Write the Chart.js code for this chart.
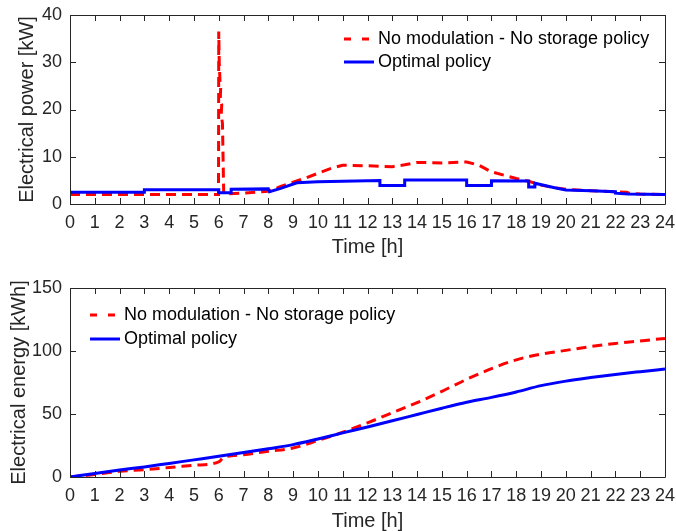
<!DOCTYPE html>
<html>
<head>
<meta charset="utf-8">
<script src="https://cdn.jsdelivr.net/npm/chart.js@4"></script>
<style>
  html, body { margin: 0; padding: 0; background: #fff; }
  #wrap { position: relative; width: 676px; height: 531px; }
  canvas { position: absolute; left: 0; }
  #power { top: 0; }
  #energy { top: 265px; }
</style>
</head>
<body>
<div id="wrap">
  <canvas id="power" width="676" height="265"></canvas>
  <canvas id="energy" width="676" height="266"></canvas>
</div>
<script>
// power profile, no modulation / no storage
const refPowerTime = [0, 5.99, 6.0, 6.02, 6.05, 6.08, 6.06, 6.12, 6.1, 6.15, 6.2, 7, 8, 8.5, 9, 9.5, 10, 10.5, 11, 12, 13, 13.5, 14, 15, 16, 16.5, 17, 17.5, 18, 18.5, 19, 19.5, 20, 21, 22, 22.45, 22.6, 23, 24];
const refPower = [2.0, 2.0, 36.5, 30, 26, 25, 22, 21, 19, 17, 2.1, 2.3, 2.7, 3.7, 4.6, 5.5, 6.5, 7.5, 8.2, 8.1, 7.9, 8.3, 8.8, 8.7, 8.9, 8.2, 6.8, 6.1, 5.4, 4.8, 4.0, 3.5, 3.1, 2.8, 2.6, 2.5, 2.2, 2.1, 2.0];

// power profile, optimal policy
const optPowerTime = [0, 3, 3, 6, 6, 6.5, 6.5, 8, 8.05, 8.5, 9.15, 10, 11, 12.5, 12.5, 13.5, 13.5, 16, 16, 17, 17, 18.5, 18.5, 18.75, 18.75, 19.5, 20, 21, 22, 22, 22.5, 24];
const optPower = [2.5, 2.5, 3.0, 3.0, 2.4, 2.4, 3.1, 3.2, 2.6, 3.3, 4.5, 4.7, 4.8, 4.95, 3.9, 3.9, 5.1, 5.1, 3.9, 3.9, 4.9, 4.85, 3.6, 3.6, 4.4, 3.5, 2.95, 2.8, 2.6, 2.3, 2.1, 2.0];

// cumulative energy
const refEnergyTime = [0, 1, 2, 3, 4, 5, 6, 6.2, 7, 8, 9, 10, 11, 12, 13, 14, 15, 16, 17, 18, 19, 20, 21, 22, 23, 24];
const refEnergy = [0, 2.0, 4.5, 5.8, 7.5, 9.3, 12.0, 15.5, 17.7, 20.4, 23, 29, 35.5, 43, 51, 59, 68, 77.5, 86, 93, 97.5, 100.5, 103.5, 106, 108, 110];
const optEnergyTime = [0, 1, 2, 3, 4, 5, 6, 7, 8, 9, 10, 11, 12, 13, 14, 15, 16, 17, 18, 19, 20, 21, 22, 23, 24];
const optEnergy = [0, 2.8, 5.5, 8.0, 10.8, 13.6, 16.4, 19.4, 22.4, 25.7, 30.2, 35, 39.7, 44.6, 49.6, 54.6, 59.3, 63.2, 67.5, 72.5, 76.1, 78.9, 81.4, 83.6, 85.7];

const hourTicks = [0, 24];
const powerRange = [0, 40, 10];
const energyRange = [0, 150, 50];

const refLabel = 'No modulation - No storage policy';
const optLabel = 'Optimal policy';

const FONT = '"Liberation Sans", Arial, Helvetica, sans-serif';
const INK = '#262626';
Chart.defaults.font.family = FONT;
Chart.defaults.color = INK;

const pts = (xs, ys) => xs.map((x, i) => ({ x: x, y: ys[i] }));

// box round the plot with inward ticks on all four sides
const boxTicks = {
  id: 'boxTicks',
  afterDraw(chart) {
    const { ctx, chartArea: a, scales: { x, y } } = chart;
    const L = 6;
    ctx.save();
    ctx.strokeStyle = INK;
    ctx.lineWidth = 1;
    ctx.beginPath();
    x.ticks.forEach(t => {
      const px = Math.round(x.getPixelForValue(t.value)) + 0.5;
      ctx.moveTo(px, a.bottom); ctx.lineTo(px, a.bottom - L);
      ctx.moveTo(px, a.top); ctx.lineTo(px, a.top + L);
    });
    y.ticks.forEach(t => {
      const py = Math.round(y.getPixelForValue(t.value)) + 0.5;
      ctx.moveTo(a.left, py); ctx.lineTo(a.left + L, py);
      ctx.moveTo(a.right, py); ctx.lineTo(a.right - L, py);
    });
    ctx.rect(Math.round(a.left) + 0.5, Math.round(a.top) + 0.5,
             Math.round(a.right - a.left), Math.round(a.bottom - a.top));
    ctx.stroke();
    ctx.restore();
  }
};

// legend drawn inside the axes
const innerLegend = {
  id: 'innerLegend',
  afterDraw(chart, args, o) {
    const ctx = chart.ctx;
    ctx.save();
    ctx.font = '18px ' + FONT;
    ctx.textBaseline = 'middle';
    ctx.fillStyle = '#000';
    chart.data.datasets.forEach((ds, i) => {
      const y = o.y + i * o.rowGap;
      ctx.beginPath();
      ctx.setLineDash(ds.legendDash || []);
      ctx.strokeStyle = ds.borderColor;
      ctx.lineWidth = ds.borderWidth;
      ctx.moveTo(o.x, y);
      ctx.lineTo(o.x + o.sample, y);
      ctx.stroke();
      ctx.setLineDash([]);
      ctx.fillText(ds.label, o.x + o.sample + o.gap, y);
    });
    ctx.restore();
  }
};

function makeChart(id, cfg) {
  return new Chart(document.getElementById(id), {
    type: 'line',
    data: {
      datasets: [
        {
          label: refLabel,
          data: pts(cfg.refTime, cfg.ref),
          borderColor: '#ff0000',
          borderWidth: 3,
          borderDash: [10, 6],
          legendDash: [7, 11],
          pointRadius: 0,
          cubicInterpolationMode: cfg.smooth ? 'monotone' : 'default',
          order: 1
        },
        {
          label: optLabel,
          data: pts(cfg.optTime, cfg.opt),
          borderColor: '#0000ff',
          borderWidth: 3,
          pointRadius: 0,
          cubicInterpolationMode: cfg.smooth ? 'monotone' : 'default',
          order: 0
        }
      ]
    },
    options: {
      responsive: false,
      animation: false,
      layout: { padding: { top: cfg.top, right: 11, left: 0, bottom: 0 } },
      plugins: {
        legend: { display: false },
        tooltip: { enabled: false },
        innerLegend: cfg.legend
      },
      scales: {
        x: {
          type: 'linear',
          min: hourTicks[0],
          max: hourTicks[1],
          grid: { display: false, drawTicks: false },
          border: { display: false },
          ticks: { stepSize: 1, autoSkip: false, maxRotation: 0, padding: 8, color: INK, font: { size: 18 } },
          title: { display: true, text: 'Time [h]', color: INK, font: { size: 20 }, padding: { top: 0, bottom: cfg.xTitlePad } },
          afterFit: s => {
            s.height = cfg.xHeight;
            s.paddingLeft = 0;
            s.paddingRight = 0;
          }
        },
        y: {
          min: cfg.range[0],
          max: cfg.range[1],
          grid: { display: false, drawTicks: false },
          border: { display: false },
          ticks: { stepSize: cfg.range[2], padding: 8, color: INK, font: { size: 18 } },
          title: { display: true, text: cfg.yTitle, color: INK, font: { size: 20 }, padding: { top: cfg.yTitlePad, bottom: 0 } },
          afterFit: s => {
            s.width = 70;
            s.paddingTop = 0;
            s.paddingBottom = 0;
          }
        }
      }
    },
    plugins: [boxTicks, innerLegend]
  });
}

makeChart('power', {
  refTime: refPowerTime, ref: refPower,
  optTime: optPowerTime, opt: optPower,
  smooth: false,
  range: powerRange,
  yTitle: 'Electrical power [kW]',
  top: 15, xHeight: 61, xTitlePad: 6, yTitlePad: 15,
  legend: { x: 344, y: 39, rowGap: 23, sample: 30, gap: 4 }
});

makeChart('energy', {
  refTime: refEnergyTime, ref: refEnergy,
  optTime: optEnergyTime, opt: optEnergy,
  smooth: true,
  range: energyRange,
  yTitle: 'Electrical energy [kWh]',
  top: 23, xHeight: 54, xTitlePad: -2, yTitlePad: 7,
  legend: { x: 90, y: 50, rowGap: 24, sample: 30, gap: 4 }
});
</script>
</body>
</html>
